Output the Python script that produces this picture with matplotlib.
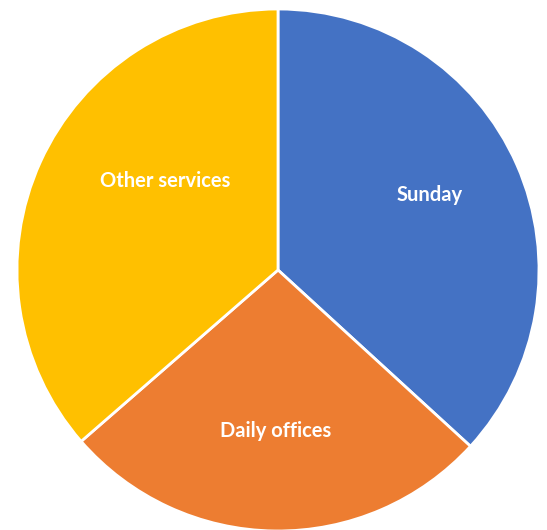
import numpy as np
import matplotlib.pyplot as plt

# Slice data (clockwise from 12 o'clock)
categories = ['Sunday', 'Daily offices', 'Other services']
shares = [36.8, 26.8, 36.4]
colors = ['#4472C4', '#ED7D31', '#FFC000']

# label placement inside the pie (fraction of radius)
label_pos = [(0.582, 0.287), (-0.011, -0.615), (-0.433, 0.341)]

fig = plt.figure(figsize=(5.47, 5.30), dpi=100)
ax = fig.add_axes([17/547, -1/530, 522/547, 522/530])

wedges, _ = ax.pie(shares, colors=colors, startangle=90, counterclock=False,
                   wedgeprops=dict(edgecolor='white', linewidth=2))

for (x, y), name in zip(label_pos, categories):
    ax.text(x, y, name, ha='center', va='center',
            color='white', fontsize=14.5, fontweight='bold', family=['Lato', 'DejaVu Sans'])

ax.set_xlim(-1.0, 1.0)
ax.set_ylim(-1.0, 1.0)
ax.set_aspect('equal')
ax.axis('off')

fig.savefig('out.png', dpi=100, facecolor='white')
